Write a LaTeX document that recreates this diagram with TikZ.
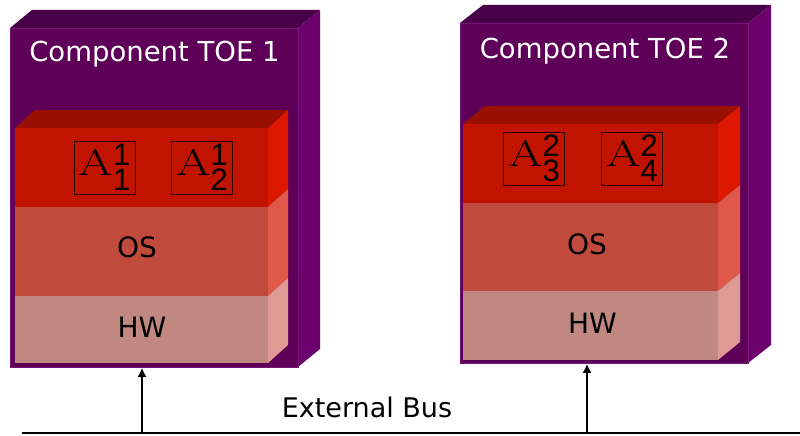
\documentclass[tikz,border=0pt]{standalone}
\usepackage{fontspec}
\usepackage{graphicx}
\usetikzlibrary{arrows.meta}
\newfontfamily\labelfont{DejaVu Sans}
\newfontfamily\digitfont{Liberation Sans}
\definecolor{pfront}{RGB}{94,0,88}
\definecolor{ptop}{RGB}{72,0,72}
\definecolor{pside}{RGB}{108,0,108}
\definecolor{pedge}{RGB}{120,20,120}
\definecolor{rfront}{RGB}{192,20,0}
\definecolor{rtop}{RGB}{154,16,0}
\definecolor{rside}{RGB}{221,24,0}
\definecolor{ofront}{RGB}{192,74,60}
\definecolor{oside}{RGB}{224,88,72}
\definecolor{hfront}{RGB}{192,136,128}
\definecolor{hside}{RGB}{224,154,148}
\definecolor{frameline}{RGB}{40,0,0}
% #1 x1, #2 y1, #3 x2, #4 y2, #5 dx, #6 dy, #7 top colour, #8 side colour
\newcommand\prismtopside[8]{%
  \fill[#7] (#1,#2) -- (#1+#5,#2+#6) -- (#3+#5,#2+#6) -- (#3,#2) -- cycle;
  \fill[#8] (#3,#2) -- (#3+#5,#2+#6) -- (#3+#5,#4+#6) -- (#3,#4) -- cycle;}
\newcommand\sideonly[6]{%
  \fill[#6] (#1,#2) -- (#1+#4,#2+#5) -- (#1+#4,#3+#5) -- (#1,#3) -- cycle;}
\newcommand\appbox[2]{%
  {\fontsize{37}{37}\selectfont\scalebox{1.35}[1]{A}}%
  {\digitfont\fontsize{31}{31}\selectfont
   \raisebox{-15pt}{\vbox{\baselineskip=25pt\lineskiplimit=-100pt
     \hbox{#1}\hbox{#2}}}}}
\tikzset{
  face/.style={inner sep=0pt, anchor=north west, draw=none},
  lbl/.style={font=\labelfont\fontsize{28}{28}\selectfont, anchor=base, inner sep=0pt},
  title/.style={lbl, font=\labelfont\fontsize{27.5}{27.5}\selectfont, text=white},
  app/.style={draw=frameline, line width=0.8pt, inner sep=2pt,
              minimum width=61pt, minimum height=53pt},
  bus/.style={line width=2.4pt, black},
  link/.style={line width=2pt, black, -{Latex[length=9pt,width=9pt]}}
}
\begin{document}
\begin{tikzpicture}[x=1pt,y=-1pt]
\useasboundingbox (0,0) rectangle (800,436);
\fill[white] (0,0) rectangle (800,436);

% ---------- Component TOE 1 ----------
\prismtopside{10}{28}{298}{367}{22}{-18}{ptop}{pside}
\node[face, fill=pfront, draw=pedge, line width=0.8pt,
      minimum width=288pt, minimum height=339pt] (toe1) at (10,28) {};
\node[title] (t1) at (154.5,62) {Component TOE 1};
% layers
\prismtopside{15}{128}{268}{207}{20}{-18}{rtop}{rside}
\node[face, fill=rfront, minimum width=253pt, minimum height=79pt] (app1) at (15,128) {};
\sideonly{268}{207}{296}{20}{-18}{oside}
\node[face, fill=ofront, minimum width=253pt, minimum height=89pt] (os1) at (15,207) {};
\sideonly{268}{296}{363}{20}{-18}{hside}
\node[face, fill=hfront, minimum width=253pt, minimum height=67pt] (hw1) at (15,296) {};
\node[lbl] (os1l) at (137,257.5) {OS};
\node[lbl] (hw1l) at (142,337.5) {HW};
\node[app] (a11) at (104.5,167.5) {\appbox{1}{1}};
\node[app] (a12) at (202,167.5) {\appbox{1}{2}};

% ---------- Component TOE 2 ----------
\prismtopside{460}{23}{748}{363}{23}{-18}{ptop}{pside}
\node[face, fill=pfront, draw=pedge, line width=0.8pt,
      minimum width=288pt, minimum height=340pt] (toe2) at (460,23) {};
\node[title] (t2) at (605,59) {Component TOE 2};
\prismtopside{463}{124}{718}{203}{22}{-18}{rtop}{rside}
\node[face, fill=rfront, minimum width=255pt, minimum height=79pt] (app2) at (463,124) {};
\sideonly{718}{203}{291}{22}{-18}{oside}
\node[face, fill=ofront, minimum width=255pt, minimum height=88pt] (os2) at (463,203) {};
\sideonly{718}{291}{360}{22}{-18}{hside}
\node[face, fill=hfront, minimum width=255pt, minimum height=69pt] (hw2) at (463,291) {};
\node[lbl] (os2l) at (587,254) {OS};
\node[lbl] (hw2l) at (592.5,333.5) {HW};
\node[app] (a23) at (534,158.5) {\appbox{2}{3}};
\node[app] (a24) at (632,158.5) {\appbox{2}{4}};

% ---------- External bus ----------
\coordinate (busL) at (22,433);
\coordinate (busR) at (800,433);
\draw[bus] (busL) -- (busR);
\coordinate (b1) at (142,433);
\coordinate (b2) at (587,433);
\draw[link] (b1) -- (b1 |- toe1.south);
\draw[link] (b2) -- (b2 |- toe2.south);
\node[lbl, font=\labelfont\fontsize{27}{27}\selectfont] (buslbl) at (367,417) {External Bus};
\end{tikzpicture}
\end{document}
